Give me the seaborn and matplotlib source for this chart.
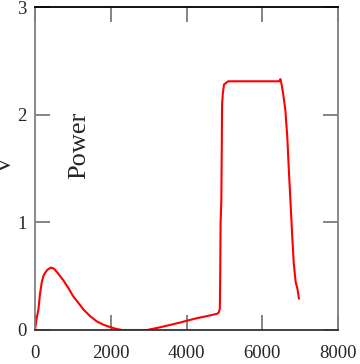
import numpy as np
import matplotlib
matplotlib.use("Agg")
import matplotlib.pyplot as plt
import seaborn as sns

# time (s) and voltage
time_s = [0, 40, 90, 130, 177, 220, 265, 330, 415, 500, 600, 750, 880, 1015,
          1150, 1280, 1450, 1630, 1800, 1960, 2150, 2300, 2600, 2960, 3300,
          3600, 3840, 4050, 4280, 4550, 4800, 4850, 4880, 4890, 4900, 4920,
          4940, 4960, 4990, 5100, 5600, 6100, 6450, 6480, 6500, 6550, 6610,
          6660, 6700, 6750, 6790, 6830, 6880, 6930, 6970]
volts = [0, 0.1, 0.19, 0.33, 0.44, 0.5, 0.53, 0.56, 0.58, 0.57, 0.53, 0.46,
         0.39, 0.31, 0.25, 0.19, 0.13, 0.08, 0.05, 0.03, 0.01, 0.0, 0.0, 0.0,
         0.025, 0.05, 0.07, 0.09, 0.11, 0.13, 0.15, 0.16, 0.2, 0.5, 1.0, 1.2,
         2.1, 2.2, 2.28, 2.31, 2.31, 2.31, 2.31, 2.33, 2.30, 2.20, 2.04, 1.80,
         1.50, 1.16, 0.88, 0.63, 0.45, 0.38, 0.29]

x_ticks = [0, 2000, 4000, 6000, 8000]
y_ticks = [0, 1, 2, 3]

sns.set_style("ticks")
plt.rcParams['font.family'] = ['Liberation Serif', 'DejaVu Serif']

fig = plt.figure(figsize=(3.6, 3.64), dpi=100)
ax = fig.add_axes([35 / 360, 34 / 364, 303 / 360, 323 / 364])

sns.lineplot(x=time_s, y=volts, sort=False, color="red", linewidth=1.5, ax=ax)

ax.set_xlim(0, 8000)
ax.set_ylim(0, 3)
ax.set_xticks(x_ticks)
ax.set_yticks(y_ticks)
ax.tick_params(axis="both", direction="in", length=11, width=1.2,
               color="#707070", labelsize=13.5, top=True, right=True)
ax.tick_params(axis="x", pad=11)
ax.tick_params(axis="y", pad=6)

ax.spines["top"].set_color("black")
ax.spines["bottom"].set_color("#333333")
ax.spines["left"].set_color("#808080")
ax.spines["right"].set_color("#808080")
for s in ax.spines.values():
    s.set_linewidth(1.3)

ax.text(1164, 1.72, "Power", rotation=90, ha="center", va="center", fontsize=19)
# y label sits mostly outside the canvas, as in the original
fig.text(16 / 360, 0.547, "V", rotation=90, ha="right", va="center", fontsize=17)

fig.savefig("out.png", dpi=100)
